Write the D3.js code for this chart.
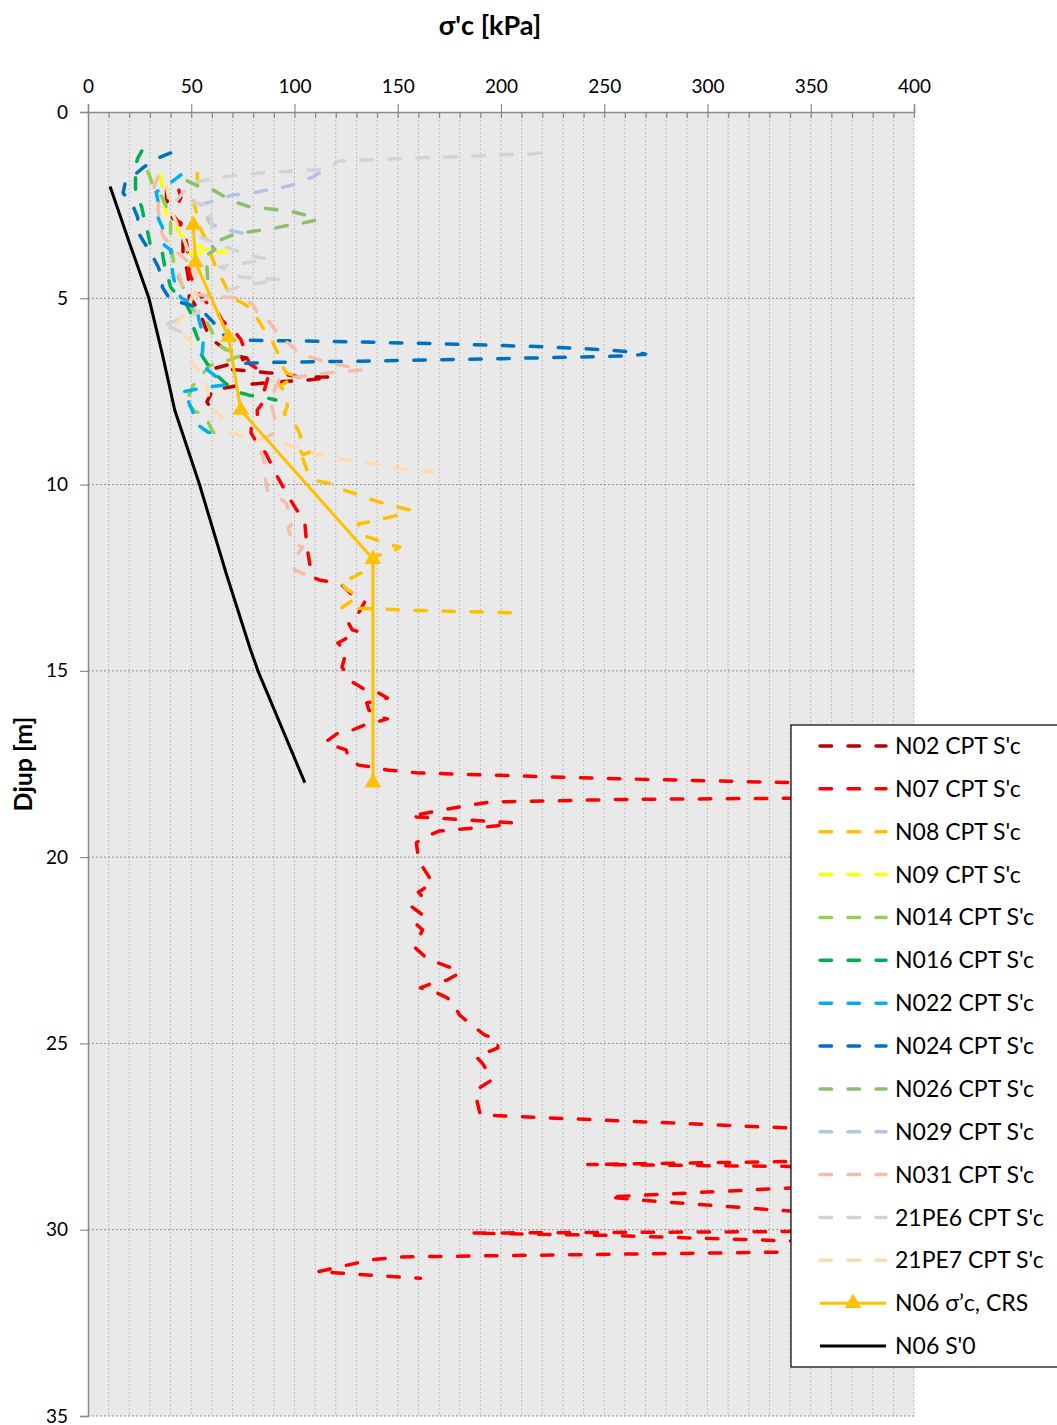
<!DOCTYPE html>
<html>
<head>
<meta charset="utf-8">
<script src="https://cdn.jsdelivr.net/npm/d3@7"></script>
<style>
  body { margin: 0; background: #fff; }
  text { font-family: Lato, "Liberation Sans", sans-serif; fill: #000; }
</style>
</head>
<body>
<svg id="chart" width="1057" height="1425"></svg>
<script>
// axis ticks
const xTicks = [0, 50, 100, 150, 200, 250, 300, 350, 400];
const yTicks = [0, 5, 10, 15, 20, 25, 30, 35];

// each point: [sigma'c kPa, depth m]
const n02 = [[38,2.1],[38,2.3],[39,2.6],[41,2.85],[45,2.98],[46,3.4],[46,3.8],[47,4.05],[48,4.24],[49,4.6],[49,5.0],[51,5.1],[55,5.5],[57,5.8],[59,6.07],[61.5,6.17],[66,6.35],[72,6.55],[77,6.6],[70,6.75],[62,6.87],[67,6.9],[80,6.96],[87,7.0],[93,7.02],[101,7.1],[108,7.12],[114,7.11],[118,7.12],[105,7.2],[90,7.25],[80,7.3],[75,7.32],[67,7.4],[60.5,7.45],[57.6,7.78],[59,7.92]];
const n07 = [[44,2.1],[45,2.3],[41,2.75],[43,2.9],[45,3.05],[47,3.3],[48,3.6],[49,4.3],[50,4.45],[54,4.9],[58,5.15],[63,5.4],[65,5.6],[71,5.9],[74,6.1],[77,6.55],[78,6.75],[85,7.0],[87,7.15],[85,7.55],[86,7.7],[82,8.0],[82,8.27],[79,8.43],[79,8.62],[82,8.9],[86,9.15],[92,9.82],[98,10.41],[105,11.03],[106,11.67],[108.5,12.48],[112,12.56],[116,12.6],[123,12.7],[127,12.91],[134,13.15],[131,13.45],[126,13.7],[128,13.9],[131,13.95],[121,14.25],[125,14.5],[123,14.9],[128,15.3],[134,15.5],[141,15.6],[145,15.73],[135,15.86],[136,16.05],[141,16.24],[145,16.29],[138,16.4],[134,16.45],[128,16.59],[121,16.67],[115,16.91],[118,16.99],[125,17.12],[126,17.34],[131,17.53],[137,17.58],[145,17.66],[160,17.74],[245,17.88],[340,18.0],[430,18.1],[430,18.4],[340,18.42],[260,18.45],[195,18.52],[182,18.63],[169,18.76],[156,18.9],[159,18.92],[206,19.08],[198,19.16],[170,19.3],[162,19.49],[159,19.62],[160,20.02],[162,20.26],[167,20.69],[160,20.94],[162,21.07],[157,21.34],[162,21.55],[158,21.75],[162,21.95],[160,22.2],[158,22.41],[164,22.71],[168,22.81],[175,22.95],[180,23.11],[174,23.3],[167,23.38],[161,23.51],[167,23.59],[173,23.75],[176,23.85],[180,24.24],[187,24.56],[192,24.77],[198.5,24.9],[198.5,25.12],[188,25.36],[191,25.53],[195.6,25.98],[188,26.25],[188,26.46],[190,26.92],[340,27.27],[430,27.35],[430,28.1],[340,28.17],[242,28.25],[340,28.3],[430,28.35],[430,28.85],[340,28.88],[252,29.12],[266,29.2],[340,29.5],[430,29.55],[430,30.0],[340,30.05],[185,30.09],[250,30.15],[340,30.3],[430,30.35],[430,30.55],[340,30.6],[151,30.73],[137,30.81],[111,31.13],[121,31.16],[151,31.27],[161,31.3]];
const n08 = [[53,1.65],[53,2.0],[51,2.4],[52,2.6],[55,3.2],[57,3.4],[60,3.9],[63,4.3],[66,4.6],[69,4.99],[74,5.1],[80,5.3],[82,5.55],[87,5.98],[89,6.12],[93,6.6],[94,6.8],[96,7.0],[101,7.1],[93,7.35],[96,7.55],[96.5,7.9],[95,8.1],[101,8.45],[103,8.7],[101,8.9],[104,9.2],[109,9.1],[104,9.3],[106,9.6],[111,9.9],[117,9.97],[124,10.15],[130,10.25],[137,10.4],[143,10.5],[150,10.6],[156,10.68],[150,10.82],[144,10.9],[136,11.0],[131,11.05],[132,11.35],[138,11.45],[145,11.6],[151,11.68],[146,11.85],[140,11.9],[135,12.1],[133,12.35],[128,12.5],[122,12.6],[125,12.8],[131,13.0],[123,13.3],[160,13.38],[211,13.45]];
const n09 = [[35,1.69],[36,2.0],[37,2.45],[38,2.75],[43,3.1],[45,3.3],[50,3.5],[56,3.68],[62,3.72],[67,3.75],[58,3.78],[48,3.82],[42,3.85]];
const n014 = [[29,1.6],[31,1.9],[36,2.3],[40,2.8],[40,3.3],[40.5,3.7],[42,4.2],[46,4.7],[50,5.2],[53,5.5],[57.6,5.64],[60,5.9],[62,6.2],[66,6.35],[70,6.44],[75,6.52],[64,6.74],[59,6.8],[56,7.0],[54,7.22],[51,7.33],[49,7.6],[46,7.68],[52,8.05],[56,8.08],[60.5,8.59],[65,8.72]];
const n016 = [[26,1.05],[24,1.25],[23,1.5],[23,1.9],[23,2.15],[26,2.55],[27,2.82],[29,3.25],[30,3.52],[36,3.78],[37,4.1],[38.7,4.43],[40,4.7],[43,4.91],[47,5.1],[51,5.53],[51,5.77],[54,6.2],[54,6.44],[59,6.87],[62,7.05],[67,7.3],[74,7.54],[78,7.6],[87,7.68],[91,7.73]];
const n022 = [[45,1.69],[40,1.9],[33,2.15],[34,2.42],[34,2.85],[36,3.09],[37,3.57],[40,3.7],[41,4.32],[42,4.59],[45,4.99],[50,5.13],[53,5.37],[54,5.64],[56,6.0],[55,6.74],[58,6.92],[67,7.33],[58,7.38],[45,7.52],[48,7.68],[51,8.08],[52,8.35],[58,8.59],[63,8.67]];
const n024 = [[40,1.1],[35,1.21],[27,1.48],[18,1.9],[17,2.17],[22,2.55],[24,2.82],[25,3.3],[31.5,3.89],[34,4.16],[36,4.46],[36,4.7],[40,5.05],[46,5.13],[54,5.26],[62,5.72],[63,5.9],[70,6.12],[120,6.16],[170,6.22],[220,6.3],[250,6.38],[265,6.45],[270,6.5],[260,6.55],[200,6.62],[140,6.68],[90,6.72],[74,6.75]];
const n026 = [[48,1.85],[54,2.01],[60.5,2.09],[67,2.3],[73,2.45],[78.5,2.55],[85,2.58],[92,2.63],[99,2.68],[105,2.76],[111,2.9],[104,2.98],[98,3.03],[91,3.11],[84,3.17],[74,3.25],[70,3.3],[64,3.44],[59,3.52],[61.5,3.7],[56,3.89],[57.6,4.16],[58,4.5],[61,4.8]];
const n029 = [[112,1.64],[109,1.74],[99,1.96],[93,2.04],[86,2.1],[80,2.17],[70,2.23],[65,2.31],[59,2.42],[54,2.5],[57.6,2.82],[59,2.98],[64,3.12],[75,3.25],[79,3.3]];
const n031 = [[34,1.74],[32,2.0],[34,2.36],[34,2.63],[35,3.03],[36,3.3],[42,3.7],[48,4.0],[44,4.3],[46,4.72],[53,4.9],[60,4.95],[75,4.99],[80,5.18],[83,5.5],[88,5.64],[93,6.04],[98,6.25],[103,6.52],[109,6.6],[117,6.74],[122,6.79],[130,6.87],[133,6.92],[122,6.98],[117,7.0],[101,7.11],[93,7.14],[90,7.5],[89,7.92],[91,8.35],[90,8.62],[82,8.86],[85,9.29],[86,9.88],[87,10.15],[94,10.41],[96,10.5],[99,11.03],[97,11.17],[99,11.57],[104,11.68],[100,11.97],[100,12.29],[108,12.48],[111,12.56]];
const pe6 = [[219,1.1],[215,1.13],[201,1.15],[188,1.18],[174,1.21],[161,1.23],[146,1.26],[133,1.29],[121,1.32],[117,1.53],[103,1.57],[88,1.62],[78,1.66],[64,1.75],[50,1.9],[43,2.36],[59,2.5],[60,3.1],[54,3.35],[77,3.84],[87,3.95],[64,4.16],[74,4.43],[93,4.5],[72,4.7],[58,5.0],[50,5.18],[54,5.37],[35,5.75],[41,5.8],[50,6.04]];
const pe7 = [[38,2.0],[40,2.6],[43,3.0],[47,3.5],[52,4.3],[54,4.7],[50,5.0],[49,5.3],[44,5.6],[42,5.75],[45,5.9],[50,6.15],[50.5,6.4],[50,6.75],[54,6.95],[58,7.4],[58.5,7.7],[61,8.0],[64,8.15],[69,8.6],[75,8.7],[85,8.8],[94,8.9],[104,9.05],[112,9.2],[122,9.3],[136,9.43],[149,9.55],[162,9.63],[169,9.66]];
const n06crs = [[51,3.03],[52,4.03],[68,6.04],[74,8.0],[138,12.0],[138,18.0]];
const n06s0 = [[10.7,2],[20,3.5],[29.5,5],[36,6.5],[42,8],[54,10],[67,12.4],[78.5,14.4],[82.3,15],[105,18]];

const cptNames = ["N02 CPT S'c","N07 CPT S'c","N08 CPT S'c","N09 CPT S'c","N014 CPT S'c","N016 CPT S'c","N022 CPT S'c","N024 CPT S'c","N026 CPT S'c","N029 CPT S'c","N031 CPT S'c","21PE6 CPT S'c","21PE7 CPT S'c"];
const cptData = [n02, n07, n08, n09, n014, n016, n022, n024, n026, n029, n031, pe6, pe7];
const cptColors = ["#C00000","#FF0000","#FFC000","#FFFF00","#92D050","#00B050","#00B0F0","#0070C0","#8DBE6C","#B4C2E6","#F5BCAA","#D3D3D3","#FFDAAE"];

const svg = d3.select('#chart');
const plotLeft = 88, plotRight = 914, plotTop = 112, plotBottom = 1416;

const x = d3.scaleLinear().domain([0, 400]).range([plotLeft, plotRight]);
const y = d3.scaleLinear().domain([0, 35]).range([plotTop, plotBottom]);

svg.append('rect')
  .attr('x', plotLeft).attr('y', plotTop)
  .attr('width', plotRight - plotLeft).attr('height', plotBottom - plotTop)
  .attr('fill', '#e9e9e9');

svg.append('clipPath').attr('id', 'plot-clip')
  .append('rect')
  .attr('x', plotLeft).attr('y', plotTop)
  .attr('width', plotRight - plotLeft).attr('height', plotBottom - plotTop);

// minor vertical gridlines every 10 kPa
svg.append('g').selectAll('line')
  .data(d3.range(10, 401, 10))
  .join('line')
  .attr('x1', d => x(d)).attr('x2', d => x(d))
  .attr('y1', plotTop).attr('y2', plotBottom)
  .attr('stroke', '#bdbdbd')
  .attr('stroke-width', 1)
  .attr('stroke-dasharray', '2,2');

// major horizontal gridlines
svg.append('g').selectAll('line')
  .data(yTicks.slice(1))
  .join('line')
  .attr('x1', plotLeft).attr('x2', plotRight)
  .attr('y1', d => y(d)).attr('y2', d => y(d))
  .attr('stroke', '#8f8f8f')
  .attr('stroke-width', 1)
  .attr('stroke-dasharray', '2,2');

// axes
const xAxis = svg.append('g')
  .attr('transform', `translate(0,${plotTop})`)
  .call(d3.axisTop(x).tickValues(xTicks).tickSize(8).tickPadding(11));
const xMinor = svg.append('g')
  .attr('transform', `translate(0,${plotTop})`)
  .call(d3.axisTop(x).tickValues(d3.range(0, 401, 10)).tickSizeInner(-6).tickSizeOuter(0).tickFormat(''));
xMinor.select('.domain').remove();

const yAxis = svg.append('g')
  .attr('transform', `translate(${plotLeft},0)`)
  .call(d3.axisLeft(y).tickValues(yTicks).tickSize(8).tickPadding(12));

[xAxis, xMinor, yAxis].forEach(g => {
  g.selectAll('.domain').attr('stroke', '#8a8a8a').attr('stroke-width', 1.5);
  g.selectAll('.tick line').attr('stroke', '#8a8a8a').attr('stroke-width', 1.2);
  g.selectAll('.tick text')
    .style('font-family', 'Lato, "Liberation Sans", sans-serif')
    .style('font-size', '19px')
    .attr('fill', '#000');
});

// axis titles
svg.append('text')
  .attr('x', 490).attr('y', 35)
  .attr('text-anchor', 'middle')
  .style('font-size', '27px').style('font-weight', 'bold')
  .text("σ'c [kPa]");

svg.append('text')
  .attr('transform', `translate(32,${(plotTop + plotBottom) / 2}) rotate(-90)`)
  .attr('text-anchor', 'middle')
  .style('font-size', '25px').style('font-weight', 'bold')
  .text('Djup [m]');

// series
const line = d3.line().x(d => x(d[0])).y(d => y(d[1]));
const plot = svg.append('g').attr('clip-path', 'url(#plot-clip)');

cptData.forEach((s, i) => {
  plot.append('path')
    .datum(s)
    .attr('d', line)
    .attr('fill', 'none')
    .attr('stroke', cptColors[i])
    .attr('stroke-width', 3.5)
    .attr('stroke-linecap', 'round')
    .attr('stroke-linejoin', 'round')
    .attr('stroke-dasharray', '11.5,16.5');
});

plot.append('path')
  .datum(n06crs)
  .attr('d', line)
  .attr('fill', 'none')
  .attr('stroke', '#FFC000')
  .attr('stroke-width', 3);

plot.selectAll('.crs')
  .data(n06crs)
  .join('path')
  .attr('class', 'crs')
  .attr('transform', d => `translate(${x(d[0])},${y(d[1])})`)
  .attr('d', d3.symbol().type(d3.symbolTriangle).size(120))
  .attr('fill', '#FFC000');

plot.append('path')
  .datum(n06s0)
  .attr('d', line)
  .attr('fill', 'none')
  .attr('stroke', '#000')
  .attr('stroke-width', 3);

// legend
const lg = svg.append('g');
lg.append('rect')
  .attr('x', 791).attr('y', 725)
  .attr('width', 275).attr('height', 642)
  .attr('fill', '#fff')
  .attr('stroke', '#000')
  .attr('stroke-width', 1.2);

const legendItems = cptNames.map((n, i) => ({ name: n, color: cptColors[i], kind: 'cpt' }))
  .concat([{ name: 'N06 σ’c, CRS', color: '#FFC000', kind: 'crs' },
           { name: "N06 S'0", color: '#000', kind: 's0' }]);

legendItems.forEach((it, i) => {
  const ly = 746 + i * 42.86;
  const l = lg.append('line')
    .attr('x1', 820).attr('x2', 886)
    .attr('y1', ly).attr('y2', ly)
    .attr('stroke', it.color);
  if (it.kind === 'cpt') {
    l.attr('stroke-width', 3.5).attr('stroke-linecap', 'round').attr('stroke-dasharray', '11.5,16.5');
  } else {
    l.attr('stroke-width', 3);
  }
  if (it.kind === 'crs') {
    lg.append('path')
      .attr('transform', `translate(853,${ly})`)
      .attr('d', d3.symbol().type(d3.symbolTriangle).size(120))
      .attr('fill', '#FFC000');
  }
  lg.append('text')
    .attr('x', 895).attr('y', ly)
    .attr('dy', '0.35em')
    .style('font-size', '23px')
    .text(it.name);
});
</script>
</body>
</html>
